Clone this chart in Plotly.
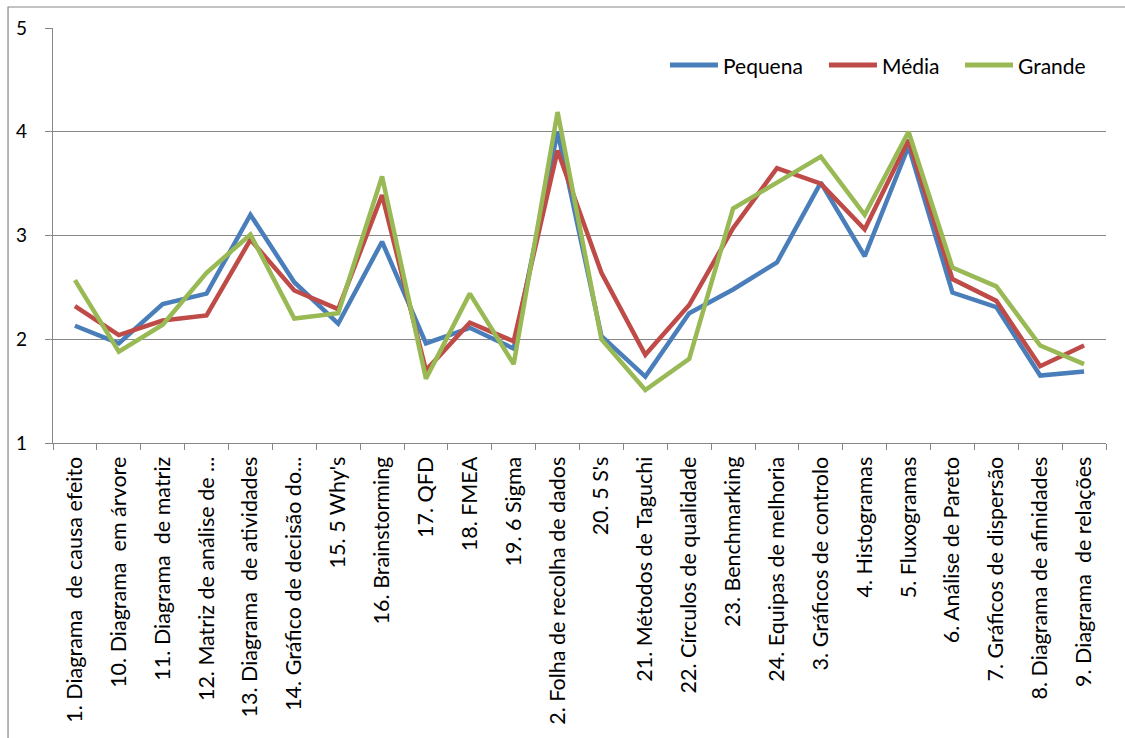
import plotly.graph_objects as go

# Quality tools, in the order shown on the horizontal axis
categories = [
    "1. Diagrama  de causa efeito",
    "10. Diagrama  em árvore",
    "11. Diagrama  de matriz",
    "12. Matriz de análise de ...",
    "13. Diagrama  de atividades",
    "14. Gráfico de decisão do...",
    "15. 5 Why's",
    "16. Brainstorming",
    "17. QFD",
    "18. FMEA",
    "19. 6 Sigma",
    "2. Folha de recolha de dados",
    "20. 5 S's",
    "21. Métodos de Taguchi",
    "22. Círculos de qualidade",
    "23. Benchmarking",
    "24. Equipas de melhoria",
    "3. Gráficos de controlo",
    "4. Histogramas",
    "5. Fluxogramas",
    "6. Análise de Pareto",
    "7. Gráficos de dispersão",
    "8. Diagrama de afinidades",
    "9. Diagrama  de relações",
]

# Mean scores by company size
pequena = [2.13, 1.96, 2.34, 2.44, 3.20, 2.55, 2.15, 2.94, 1.96, 2.11, 1.91, 4.00,
           2.03, 1.64, 2.25, 2.48, 2.74, 3.51, 2.80, 3.86, 2.45, 2.31, 1.65, 1.69]
media = [2.32, 2.04, 2.18, 2.23, 2.96, 2.47, 2.29, 3.39, 1.70, 2.16, 1.98, 3.82,
         2.64, 1.85, 2.33, 3.07, 3.65, 3.50, 3.06, 3.92, 2.58, 2.37, 1.74, 1.94]
grande = [2.57, 1.88, 2.14, 2.64, 3.01, 2.20, 2.25, 3.57, 1.62, 2.44, 1.76, 4.19,
          2.00, 1.51, 1.81, 3.26, 3.51, 3.76, 3.20, 4.00, 2.69, 2.51, 1.94, 1.76]

series = [
    ("Pequena", pequena, "#4A7EBB"),
    ("Média", media, "#BE4B48"),
    ("Grande", grande, "#98B954"),
]

FONT = "Lato, Calibri, Carlito, sans-serif"
GRID = "#878787"

fig = go.Figure()
for name, values, color in series:
    fig.add_trace(go.Scatter(
        x=categories, y=values, name=name, mode="lines",
        line=dict(color=color, width=4.5), showlegend=False,
    ))

# Legend drawn as key lines plus labels along the top of the plot area
legend_y = 0.9108
legend_x0 = [0.5859, 0.7369, 0.8661]
key_len = 0.0456
for (name, _, color), x0 in zip(series, legend_x0):
    fig.add_shape(
        type="line", xref="paper", yref="paper",
        x0=x0, x1=x0 + key_len, y0=legend_y, y1=legend_y,
        line=dict(color=color, width=5),
    )
    fig.add_annotation(
        xref="paper", yref="paper", x=x0 + key_len + 0.003, y=legend_y,
        xanchor="left", yanchor="middle", text=name, showarrow=False,
        font=dict(family=FONT, size=21, color="black"),
    )

# Chart-area border (left and top edges)
fig.add_shape(
    type="path", xref="paper", yref="paper",
    path="M -0.0427,-0.75 L -0.0427,1.0506 L 1.1,1.0506",
    line=dict(color=GRID, width=1.2),
)

fig.update_layout(
    width=1125, height=738,
    margin=dict(l=53, r=19, t=28, b=295),
    paper_bgcolor="white", plot_bgcolor="white",
    font=dict(family=FONT, size=17, color="black"),
    xaxis=dict(
        type="category", tickangle=-90, showgrid=False,
        showline=True, linecolor=GRID, linewidth=1.2,
        ticks="outside", tickson="boundaries", ticklen=6, tickcolor=GRID,
        tickfont=dict(family=FONT, size=21.5, color="black"),
        ticklabelstandoff=4,
        range=[-0.5, 23.5],
    ),
    yaxis=dict(
        range=[1, 5], dtick=1, showgrid=True, gridcolor=GRID, gridwidth=1.2,
        showline=True, linecolor=GRID, linewidth=1.2,
        ticks="outside", ticklen=7, tickcolor=GRID,
        tickfont=dict(family=FONT, size=19, color="black"),
        ticklabelstandoff=14, zeroline=False,
    ),
)

fig.write_html("out.html")
